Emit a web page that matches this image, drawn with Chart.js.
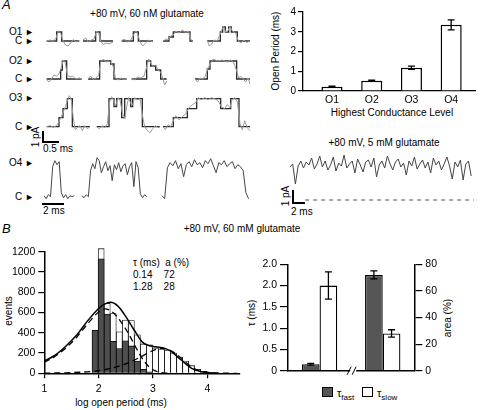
<!DOCTYPE html>
<html>
<head>
<meta charset="utf-8">
<script src="https://cdn.jsdelivr.net/npm/chart.js@4.4.0/dist/chart.umd.min.js"></script>
<style>
  body { margin: 0; width: 480px; height: 410px; position: relative; background: #fff; overflow: hidden;
         font-family: "Liberation Sans", Arial, sans-serif; color: #000; }
  canvas { position: absolute; }
  .t { position: absolute; font-size: 10px; line-height: 1; white-space: nowrap; }
  .c { transform: translate(-50%, -50%); }
  .r { transform: translate(-50%, -50%) rotate(-90deg); }
  .fl { font-size: 9px; }
  .lado { position: absolute; right: 446px; text-align: right; font-size: 10px; line-height: 1; }
  .caja { position: absolute; width: 11px; height: 10px; border: 1px solid #000; box-sizing: border-box; }
  .barra { position: absolute; background: #000; }
</style>
</head>
<body>

<!-- Panel A: textos -->
<div class="t" style="left:2px;top:-2px;font-size:13px;font-style:italic">A</div>
<div class="t c" style="left:147px;top:14px">+80 mV, 60 nM glutamate</div>
<div class="lado" style="top:27px">O1 <span class="fl">►</span></div>
<div class="lado" style="top:36px">C <span class="fl">►</span></div>
<div class="lado" style="top:56px">O2 <span class="fl">►</span></div>
<div class="lado" style="top:74px">C <span class="fl">►</span></div>
<div class="lado" style="top:93px">O3 <span class="fl">►</span></div>
<div class="lado" style="top:122px">C <span class="fl">►</span></div>
<div class="lado" style="top:158px">O4 <span class="fl">►</span></div>
<div class="lado" style="top:192px">C <span class="fl">►</span></div>

<div class="barra" style="left:42px;top:131px;width:1.5px;height:11px"></div>
<div class="barra" style="left:42px;top:141px;width:17px;height:1.5px"></div>
<div class="t r" style="left:36px;top:137px">1 pA</div>
<div class="t" style="left:43px;top:144px">0.5 ms</div>
<div class="barra" style="left:42px;top:203px;width:22px;height:1.5px"></div>
<div class="t" style="left:43px;top:206px">2 ms</div>

<div class="t r" style="left:276px;top:51px">Open Period (ms)</div>
<div class="t c" style="left:392px;top:113px">Highest Conductance Level</div>
<div class="t c" style="left:384px;top:143px">+80 mV, 5 mM glutamate</div>
<div class="barra" style="left:292px;top:190px;width:1.5px;height:13px"></div>
<div class="barra" style="left:292px;top:202px;width:13px;height:1.5px"></div>
<div class="t r" style="left:286px;top:196px">1 pA</div>
<div class="t" style="left:291px;top:207px">2 ms</div>

<!-- Panel B: textos -->
<div class="t" style="left:2px;top:222px;font-size:13px;font-style:italic">B</div>
<div class="t c" style="left:242px;top:229px">+80 mV, 60 mM glutamate</div>
<div class="t r" style="left:9px;top:311px">events</div>
<div class="t c" style="left:121px;top:403px">log open period (ms)</div>
<div class="t" style="left:133px;top:258px">τ (ms)&nbsp; a (%)</div>
<div class="t" style="left:133px;top:270px">0.14&nbsp;&nbsp;&nbsp; 72</div>
<div class="t" style="left:133px;top:282px">1.28&nbsp;&nbsp;&nbsp; 28</div>
<div class="t r" style="left:252px;top:313px">τ (ms)</div>
<div class="t r" style="left:448px;top:318px">area (%)</div>
<div class="caja" style="left:322px;top:387px;background:#555"></div>
<div class="t" style="left:337px;top:388px;font-size:11px">τ<sub style="font-size:8px">fast</sub></div>
<div class="caja" style="left:362px;top:387px;background:#fff"></div>
<div class="t" style="left:377px;top:388px;font-size:11px">τ<sub style="font-size:8px">slow</sub></div>

<canvas id="fila1" width="210" height="26" style="left:44px;top:22px"></canvas>
<canvas id="fila2" width="210" height="36" style="left:44px;top:50px"></canvas>
<canvas id="fila3" width="210" height="44" style="left:44px;top:90px"></canvas>
<canvas id="fila4" width="210" height="50" style="left:44px;top:155px"></canvas>
<canvas id="traza5mM" width="185" height="60" style="left:290px;top:145px"></canvas>
<canvas id="graficoNiveles" width="200" height="120" style="left:280px;top:0px"></canvas>
<canvas id="histograma" width="250" height="170" style="left:0px;top:240px"></canvas>
<canvas id="graficoTau" width="200" height="126" style="left:250px;top:254px"></canvas>

<script>
// ---------- Datos ----------
// Panel A derecha: periodo abierto por nivel de conductancia
const niveles = ['O1', 'O2', 'O3', 'O4'];
const periodoAbierto = [0.22, 0.52, 1.18, 3.35];
const errorPeriodo = [0.02, 0.03, 0.08, 0.25];

// Panel B: histograma (centros de bin en log, eventos)
const centrosBin = [1.935, 2.046, 2.157, 2.268, 2.379, 2.49, 2.601, 2.712, 2.823, 2.934,
                    3.045, 3.156, 3.267, 3.378, 3.489, 3.6, 3.711, 3.822, 3.933, 4.044];
const eventosTotal = [420, 1230, 690, 590, 410, 525, 520, 380, 290, 280,
                      250, 240, 225, 200, 160, 120, 75, 40, 20, 6];
const eventosOscuro = [425, 1130, 585, 315, 245, 320, 270, 120, 40, 15,
                       0, 0, 0, 0, 0, 0, 0, 0, 0, 0];
const ajusteTotal = [[1.0,120],[1.2,180],[1.4,270],[1.6,380],[1.8,520],[2.0,640],[2.1,680],[2.22,700],
                     [2.35,665],[2.5,560],[2.65,430],[2.8,310],[2.92,275],[3.05,262],[3.22,246],[3.34,213],
                     [3.52,131],[3.71,49],[3.89,16],[4.05,5],[4.2,1]];
const componenteRapido = [[1.0,108],[1.2,168],[1.4,252],[1.6,358],[1.8,490],[2.0,605],[2.12,635],[2.25,605],
                          [2.4,515],[2.55,390],[2.7,240],[2.85,110],[3.0,35],[3.15,8],[3.3,1]];
const componenteLento = [[1.0,2],[1.4,5],[1.8,15],[2.0,25],[2.2,45],[2.4,75],[2.6,115],[2.8,170],[3.0,225],
                         [3.15,245],[3.3,230],[3.45,180],[3.6,110],[3.75,50],[3.9,18],[4.1,5],[4.3,1],[4.55,0]];

// Panel B derecha: constantes de tiempo y áreas
const tauValores = [0.15, 2.0];
const tauErrores = [0.02, 0.32];
const areaValores = [72, 28];
const areaErrores = [3, 2.8];
const etiquetasTau = ['0', '0.5', '1.0', '1.5', '2.0', '2.0'];

// Panel A: trazas (ms, pA). Idealizadas y registradas
const fila1Ideal = [
  [[0.08,0],[0.38,0],[0.38,0.9],[0.53,0.9],[0.53,0],[1.06,0]],
  [[1.17,0],[1.55,0],[1.55,0.9],[1.68,0.9],[1.68,0],[2.07,0]],
  [[2.33,0],[2.68,0],[2.68,0.9],[2.83,0.9],[2.83,0],[3.27,0]],
  [[3.57,0],[3.75,0],[3.75,0.4],[3.88,0.4],[3.88,0.9],[4.38,0.9],[4.38,0],[4.47,0]],
  [[4.89,0],[5.29,0],[5.29,0.9],[5.36,0.9],[5.36,1.4],[5.44,1.4],[5.44,0.9],[5.54,0.9],[5.54,1.4],[5.62,1.4],[5.62,0.9],[5.8,0.9],[5.8,0],[6.18,0]]
];
const fila1Raw = [
  [[0.08,0],[0.18,0.1],[0.28,-0.05],[0.36,0.3],[0.43,1.0],[0.5,0.8],[0.56,0.1],[0.63,-0.35],[0.72,-0.5],[0.8,-0.2],[0.88,0.15],[0.96,-0.1],[1.06,0.05]],
  [[1.17,0.1],[1.25,0.3],[1.33,-0.1],[1.42,0.1],[1.5,0.2],[1.58,1.0],[1.64,0.8],[1.7,0.0],[1.78,-0.35],[1.86,-0.2],[1.95,-0.3],[2.07,-0.1]],
  [[2.33,0.05],[2.42,0.2],[2.5,-0.1],[2.6,0.1],[2.7,0.7],[2.76,1.0],[2.82,0.6],[2.88,-0.1],[2.96,-0.5],[3.05,-0.2],[3.14,0.1],[3.27,-0.1]],
  [[3.57,0],[3.65,0.2],[3.72,0.1],[3.8,0.5],[3.88,0.6],[3.95,1.0],[4.05,0.8],[4.15,1.1],[4.25,0.85],[4.33,1.0],[4.4,0.2],[4.47,-0.1]],
  [[4.89,0.1],[4.96,-0.5],[5.03,-0.3],[5.1,0.1],[5.2,0.0],[5.3,0.8],[5.38,1.5],[5.45,0.9],[5.52,1.0],[5.58,1.5],[5.65,1.0],[5.75,0.8],[5.82,0.1],[5.9,-0.2],[6.0,0.1],[6.08,-0.15],[6.18,0]]
];
const fila2Ideal = [
  [[0.08,0],[0.5,0],[0.5,0.9],[0.55,0.9],[0.55,1.8],[0.68,1.8],[0.68,0],[1.13,0]],
  [[1.32,0],[1.67,0],[1.67,1.8],[2.0,1.8],[2.0,1.5],[2.1,1.5],[2.1,0],[2.48,0]],
  [[2.63,0],[3.08,0],[3.08,1.8],[3.2,1.8],[3.2,1.3],[3.35,1.3],[3.35,0.9],[3.5,0.9],[3.5,0],[3.68,0]],
  [[4.53,0],[4.9,0],[4.9,1.0],[4.98,1.0],[4.98,1.8],[5.78,1.8],[5.78,0],[6.18,0]]
];
const fila2Raw = [
  [[0.08,-0.1],[0.15,-0.3],[0.22,0.0],[0.3,0.4],[0.38,0.3],[0.45,0.5],[0.52,1.2],[0.58,1.9],[0.64,1.6],[0.7,0.4],[0.78,0.2],[0.86,0.3],[0.95,0.0],[1.05,0.1],[1.13,0]],
  [[1.32,0],[1.4,0.3],[1.48,-0.05],[1.56,0.1],[1.64,0.4],[1.7,1.7],[1.78,2.0],[1.86,1.7],[1.94,1.8],[2.02,1.6],[2.08,1.2],[2.14,0.1],[2.22,-0.1],[2.32,0.1],[2.4,-0.05],[2.48,0.05]],
  [[2.63,0.05],[2.72,-0.1],[2.8,0.2],[2.9,0.1],[3.0,0.3],[3.08,1.2],[3.14,2.0],[3.2,1.6],[3.28,1.2],[3.35,1.4],[3.42,0.9],[3.5,0.7],[3.56,0.1],[3.62,-0.6],[3.68,-0.2]],
  [[4.53,0],[4.6,-0.3],[4.68,0.1],[4.76,0.0],[4.84,0.3],[4.92,1.1],[5.0,1.6],[5.08,2.0],[5.2,1.8],[5.35,1.9],[5.5,1.7],[5.6,1.9],[5.7,1.6],[5.78,0.8],[5.84,0.1],[5.9,0.3],[5.98,0.0],[6.05,-0.3],[6.12,0.1],[6.18,-0.5]]
];
const fila3Ideal = [
  [[0.08,0],[0.45,0],[0.45,0.9],[0.57,0.9],[0.57,1.8],[0.7,1.8],[0.7,2.8],[0.85,2.8],[0.85,0],[1.38,0]],
  [[1.58,0],[1.95,0],[1.95,2.8],[2.1,2.8],[2.1,2.0],[2.18,2.0],[2.18,2.8],[2.33,2.8],[2.33,0.9],[2.42,0.9],[2.42,2.8],[2.6,2.8],[2.6,2.0],[2.66,2.0],[2.66,2.8],[2.95,2.8],[2.95,0],[3.48,0]],
  [[3.57,0],[3.88,0],[3.88,0.9],[4.3,0.9],[4.3,1.8],[4.58,1.8],[4.58,2.8],[5.3,2.8],[5.3,1.8],[5.6,1.8],[5.6,2.8],[5.85,2.8],[5.85,0],[6.18,0]]
];
const fila3Raw = [
  [[0.08,0],[0.18,0.1],[0.28,-0.05],[0.38,0.1],[0.46,0.6],[0.52,1.0],[0.58,1.5],[0.64,2.0],[0.7,2.6],[0.76,3.1],[0.82,2.7],[0.88,0.8],[0.94,-0.3],[1.0,-0.1],[1.08,0.1],[1.15,-0.4],[1.22,0.1],[1.3,-0.2],[1.38,0]],
  [[1.58,0],[1.66,-0.2],[1.74,0.1],[1.82,-0.1],[1.9,0.3],[1.97,2.5],[2.03,3.0],[2.1,2.6],[2.15,2.1],[2.22,2.9],[2.28,2.7],[2.35,1.4],[2.42,0.8],[2.48,2.0],[2.54,2.9],[2.6,2.3],[2.66,2.2],[2.72,2.9],[2.8,2.7],[2.88,2.8],[2.96,1.0],[3.02,0.0],[3.1,-0.4],[3.18,-0.6],[3.26,-0.2],[3.34,0.1],[3.42,-0.1],[3.48,0]],
  [[3.57,0],[3.64,-0.3],[3.72,0.2],[3.8,0.0],[3.88,0.6],[3.95,1.1],[4.05,0.7],[4.15,1.0],[4.25,1.3],[4.35,1.9],[4.45,2.2],[4.55,2.4],[4.62,2.9],[4.72,2.7],[4.82,2.9],[4.92,2.7],[5.02,2.9],[5.12,2.8],[5.22,2.6],[5.32,2.0],[5.42,1.8],[5.5,2.2],[5.58,1.9],[5.64,2.7],[5.72,2.9],[5.8,2.5],[5.88,0.3],[5.95,-0.3],[6.02,0.6],[6.1,-0.1],[6.18,-0.4]]
];
// Fila O4 (escala 2 ms): inicio, paso (ms) y corriente (pA)
const fila4Inicios = [0.0, 3.5, 10.9];
const fila4Pasos = [0.2, 0.2, 0.25];
const fila4Valores = [
  [0.1,-0.2,0.2,0.0,3.0,3.6,3.2,3.5,0.4,-0.1,0.2,-0.2,0.1,0.0,0.1],
  [0.1,-0.1,0.2,0.0,2.6,3.3,2.8,3.9,3.6,2.4,3.0,3.5,2.6,3.1,1.6,3.2,2.7,3.4,2.5,3.1,3.3,2.2,3.0,3.4,1.0,3.5,2.9,0.3,-0.1,0.2,0.0],
  [0.1,-0.2,2.9,3.4,3.1,3.6,2.8,3.3,2.0,3.2,3.5,3.0,3.7,3.2,3.4,2.9,3.6,3.3,3.8,3.1,2.4,3.4,3.2,3.6,3.0,3.3,3.5,2.8,3.2,3.0,2.6,0.4,-0.2]
];
// Traza a 5 mM glutamato (paso 0.25 ms)
const paso5mM = 0.25;
const valores5mM = [3.3,3.6,1.6,3.4,3.9,3.2,3.8,3.5,4.2,3.1,3.6,4.4,3.3,3.9,3.0,3.5,4.3,2.9,3.7,3.4,
  4.5,3.2,3.6,3.9,2.7,4.1,3.5,2.8,3.8,4.0,3.3,4.2,2.3,3.5,3.9,3.2,4.4,3.6,3.0,3.8,4.1,3.3,3.7,2.5,
  3.9,3.4,4.3,3.1,3.6,4.0,3.2,3.8,2.7,4.2,3.5,3.9,3.0,3.6,4.3,3.4,2.1,3.8,3.3,4.0,2.0,3.6,3.9,2.4];
const nivelCerrado = [[1.4,0],[17.0,0]];

// ---------- Configuración común ----------
Chart.defaults.font.family = '"Liberation Sans", Arial, sans-serif';
Chart.defaults.font.size = 10;
Chart.defaults.color = '#000';

const base = {
  responsive: false, animation: false, devicePixelRatio: 1,
  plugins: { legend: { display: false }, tooltip: { enabled: false } }
};
const aPuntos = arr => arr.map(p => ({ x: p[0], y: p[1] }));

// Barras de error
const barrasError = {
  id: 'barrasError',
  afterDatasetsDraw(chart) {
    const ctx = chart.ctx;
    chart.data.datasets.forEach((ds, i) => {
      if (!ds.errores) return;
      const meta = chart.getDatasetMeta(i);
      const yScale = chart.scales[meta.yAxisID];
      meta.data.forEach((bar, j) => {
        const v = ds.data[j];
        const e = ds.errores[j];
        if (v == null || e == null) return;
        const val = typeof v === 'object' ? v.y : v;
        const arriba = yScale.getPixelForValue(val + e);
        const abajo = yScale.getPixelForValue(val - e);
        ctx.save();
        ctx.strokeStyle = '#000';
        ctx.lineWidth = 1.3;
        ctx.beginPath();
        ctx.moveTo(bar.x, arriba); ctx.lineTo(bar.x, abajo);
        ctx.moveTo(bar.x - 3.5, arriba); ctx.lineTo(bar.x + 3.5, arriba);
        ctx.moveTo(bar.x - 3.5, abajo); ctx.lineTo(bar.x + 3.5, abajo);
        ctx.stroke();
        ctx.restore();
      });
    });
  }
};

// Corte del eje x (//)
const corteEje = {
  id: 'corteEje',
  afterDraw(chart) {
    const ctx = chart.ctx;
    const a = chart.chartArea;
    const xm = (a.left + a.right) / 2 + 2;
    ctx.save();
    ctx.fillStyle = '#fff';
    ctx.fillRect(xm - 3, a.bottom - 2, 6, 4);
    ctx.strokeStyle = '#000';
    ctx.lineWidth = 1;
    ctx.beginPath();
    ctx.moveTo(xm - 6, a.bottom + 4); ctx.lineTo(xm - 2, a.bottom - 4);
    ctx.moveTo(xm - 1, a.bottom + 4); ctx.lineTo(xm + 3, a.bottom - 4);
    ctx.stroke();
    ctx.restore();
  }
};

// ---------- Trazas ----------
function grafTrazo(id, maxX, minY, maxY, datasets) {
  new Chart(document.getElementById(id), {
    type: 'line',
    data: { datasets },
    options: {
      ...base,
      layout: { padding: 0 },
      elements: { point: { radius: 0 }, line: { tension: 0 } },
      scales: {
        x: { type: 'linear', min: 0, max: maxX, display: false },
        y: { min: minY, max: maxY, display: false }
      }
    }
  });
}

function datosFila(ideal, raw) {
  const ds = [];
  raw.forEach(t => ds.push({ data: aPuntos(t), borderColor: '#9a9a9a', borderWidth: 1, clip: false }));
  ideal.forEach(t => ds.push({ data: aPuntos(t), borderColor: '#2a2a2a', borderWidth: 1.3, clip: false }));
  return ds;
}

grafTrazo('fila1', 6.3, -0.7, 1.9, datosFila(fila1Ideal, fila1Raw));
grafTrazo('fila2', 6.3, -0.7, 2.9, datosFila(fila2Ideal, fila2Raw));
grafTrazo('fila3', 6.3, -0.73, 3.67, datosFila(fila3Ideal, fila3Raw));

grafTrazo('fila4', 19.4, -0.83, 4.17, fila4Valores.map((vals, k) => ({
  data: vals.map((v, i) => ({ x: fila4Inicios[k] + i * fila4Pasos[k], y: v })),
  borderColor: '#444', borderWidth: 1
})));

grafTrazo('traza5mM', 17.1, -0.5, 5.5, [
  { data: valores5mM.map((v, i) => ({ x: i * paso5mM, y: v })), borderColor: '#444', borderWidth: 1 },
  { data: aPuntos(nivelCerrado), borderColor: '#555', borderWidth: 1, borderDash: [4, 4] }
]);

// ---------- Periodo abierto por nivel ----------
new Chart(document.getElementById('graficoNiveles'), {
  type: 'bar',
  data: {
    datasets: [{
      data: niveles.map((n, i) => ({ x: i + 1, y: periodoAbierto[i] })),
      errores: errorPeriodo,
      backgroundColor: '#fff', borderColor: '#000', borderWidth: 1.5,
      barPercentage: 1, categoryPercentage: 0.53
    }]
  },
  options: {
    ...base,
    layout: { padding: { top: 12, right: 5, left: 0, bottom: 0 } },
    scales: {
      x: {
        type: 'linear', min: 0.27, max: 4.6, offset: false,
        grid: { display: false, drawTicks: false, offset: false },
        border: { color: '#000', width: 1.3 },
        ticks: { stepSize: 1, includeBounds: false, padding: 3, font: { size: 10.5 },
                 callback: v => niveles[v - 1] || '' },
        afterFit: s => { s.height = 29; }
      },
      y: {
        min: 0, max: 4,
        grid: { drawOnChartArea: false, tickLength: 5, color: '#000', lineWidth: 1.2 },
        border: { color: '#000', width: 1.3 },
        ticks: { stepSize: 1, padding: 2, font: { size: 10 } },
        afterFit: s => { s.width = 23; }
      }
    }
  },
  plugins: [barrasError]
});

// ---------- Histograma ----------
new Chart(document.getElementById('histograma'), {
  type: 'bar',
  data: {
    datasets: [
      { type: 'line', data: aPuntos(ajusteTotal), borderColor: '#000', borderWidth: 1.5,
        pointRadius: 0, cubicInterpolationMode: 'monotone', order: 0, clip: false },
      { type: 'line', data: aPuntos(componenteRapido), borderColor: '#000', borderWidth: 1.3,
        borderDash: [6, 4], pointRadius: 0, cubicInterpolationMode: 'monotone', order: 0 },
      { type: 'line', data: aPuntos(componenteLento), borderColor: '#000', borderWidth: 1.3,
        borderDash: [6, 4], pointRadius: 0, cubicInterpolationMode: 'monotone', order: 0 },
      { data: centrosBin.map((c, i) => ({ x: c, y: eventosOscuro[i] })), grouped: false,
        backgroundColor: '#4f4f4f', borderColor: '#000', borderWidth: 0.8,
        barPercentage: 1, categoryPercentage: 1, order: 1, clip: false },
      { data: centrosBin.map((c, i) => ({ x: c, y: eventosTotal[i] })), grouped: false,
        backgroundColor: '#fff', borderColor: '#000', borderWidth: 0.8,
        barPercentage: 1, categoryPercentage: 1, order: 2, clip: false }
    ]
  },
  options: {
    ...base,
    layout: { padding: { top: 11.7, right: 10, left: 0, bottom: 0 } },
    scales: {
      x: {
        type: 'linear', min: 1, max: 4.6, offset: false,
        grid: { drawOnChartArea: false, offset: false, tickLength: 5, color: '#000', lineWidth: 1.2 },
        border: { color: '#000', width: 1.5 },
        ticks: { stepSize: 1, includeBounds: false, padding: 5, font: { size: 10.5 } },
        afterFit: s => { s.height = 36.7; }
      },
      y: {
        min: 0, max: 1200,
        grid: { drawOnChartArea: false, tickLength: 6, color: '#000', lineWidth: 1.2 },
        border: { color: '#000', width: 1.5 },
        ticks: { stepSize: 200, padding: 3, font: { size: 10.5 }, callback: v => String(v) },
        afterFit: s => { s.width = 44.3; }
      }
    }
  }
});

// ---------- Tau y área ----------
new Chart(document.getElementById('graficoTau'), {
  type: 'bar',
  data: {
    labels: ['tau', 'area'],
    datasets: [
      { data: [tauValores[0], null], errores: [tauErrores[0], null], yAxisID: 'y',
        backgroundColor: '#555', borderColor: '#000', borderWidth: 1.3 },
      { data: [tauValores[1], null], errores: [tauErrores[1], null], yAxisID: 'y',
        backgroundColor: '#fff', borderColor: '#000', borderWidth: 1.3 },
      { data: [null, areaValores[0]], errores: [null, areaErrores[0]], yAxisID: 'y2',
        backgroundColor: '#555', borderColor: '#000', borderWidth: 1.3 },
      { data: [null, areaValores[1]], errores: [null, areaErrores[1]], yAxisID: 'y2',
        backgroundColor: '#fff', borderColor: '#000', borderWidth: 1.3 }
    ]
  },
  options: {
    ...base,
    skipNull: true,
    datasets: { bar: { skipNull: true, barPercentage: 1, categoryPercentage: 0.56 } },
    layout: { padding: { top: 10.3, right: 0, left: 0, bottom: 0 } },
    scales: {
      x: {
        grid: { display: false, drawTicks: false },
        border: { color: '#000', width: 1.5 },
        ticks: { display: false },
        afterFit: s => { s.height = 5.7; }
      },
      y: {
        position: 'left', min: 0, max: 2.5,
        grid: { drawOnChartArea: false, tickLength: 8, color: '#000', lineWidth: 1.2 },
        border: { color: '#000', width: 1.5 },
        ticks: { stepSize: 0.5, padding: 3, font: { size: 10.5 }, callback: (v, i) => etiquetasTau[i] },
        afterFit: s => { s.width = 38; }
      },
      y2: {
        position: 'right', min: 0, max: 80,
        grid: { drawOnChartArea: false, tickLength: 8, color: '#000', lineWidth: 1.2 },
        border: { color: '#000', width: 1.5 },
        ticks: { stepSize: 20, padding: 3, font: { size: 10.5 } },
        afterFit: s => { s.width = 35.7; }
      }
    }
  },
  plugins: [barrasError, corteEje]
});
</script>
</body>
</html>
